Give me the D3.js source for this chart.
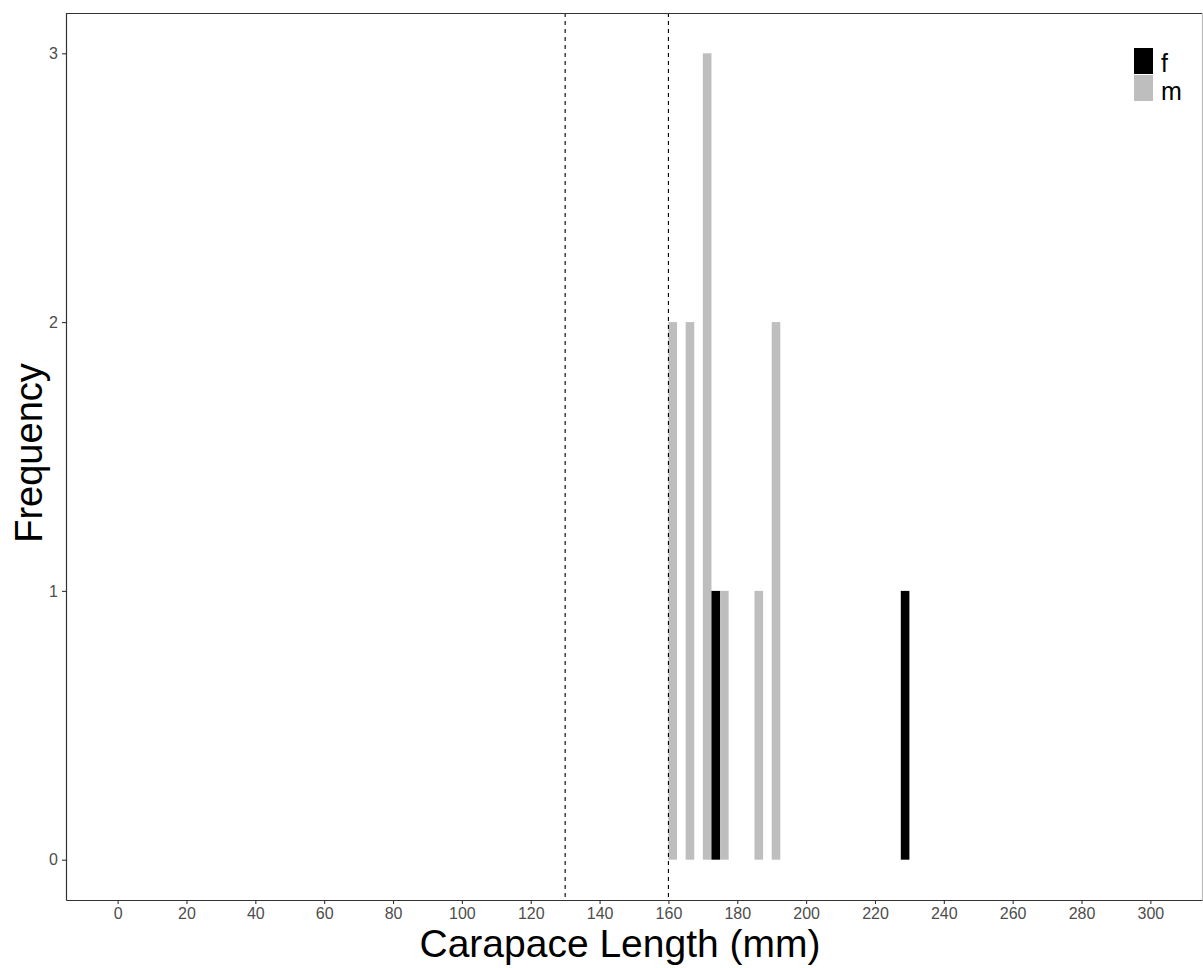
<!DOCTYPE html>
<html>
<head>
<meta charset="utf-8">
<script src="https://cdn.jsdelivr.net/npm/d3@7"></script>
<style>
  body { margin: 0; background: #fff; }
  svg { display: block; }
  text { font-family: "Liberation Sans", Arial, sans-serif; }
</style>
</head>
<body>
<svg id="chart" width="1203" height="968"></svg>
<script>
// Histogram bins (bin start, width 5 mm), counts per sex
const binStarts = [160, 165, 170, 175, 185, 190, 225];
const countsM = [2, 2, 3, 1, 1, 2, 0];
const countsF = [0, 0, 1, 0, 0, 0, 1];
const binWidth = 5;
const xTicks = d3.range(0, 301, 20);
const yTicks = [0, 1, 2, 3];
const refLines = [130, 160];
const sexes = ["f", "m"];
const sexColors = ["#000000", "#bebebe"];

const svg = d3.select("#chart");
const pLeft = 66, pRight = 1202, pTop = 13, pBottom = 900;

const x = d3.scaleLinear().domain([-15, 315]).range([pLeft, pRight]);
const y = d3.scaleLinear().domain([-0.15, 3.15]).range([pBottom, pTop]);

// bars: m on left half of bin, f on right half
const bars = [];
binStarts.forEach((b, i) => {
  if (countsM[i] > 0) bars.push({x0: b, x1: b + binWidth / 2, v: countsM[i], c: sexColors[1]});
  if (countsF[i] > 0) bars.push({x0: b + binWidth / 2, x1: b + binWidth, v: countsF[i], c: sexColors[0]});
});

svg.append("g").selectAll("rect").data(bars).join("rect")
  .attr("x", d => x(d.x0))
  .attr("width", d => x(d.x1) - x(d.x0))
  .attr("y", d => y(d.v))
  .attr("height", d => y(0) - y(d.v))
  .attr("fill", d => d.c);

// dashed reference lines
svg.append("g").selectAll("line").data(refLines).join("line")
  .attr("x1", d => x(d)).attr("x2", d => x(d))
  .attr("y1", pTop).attr("y2", pBottom)
  .attr("stroke", "#000").attr("stroke-width", 1.1)
  .attr("stroke-dasharray", "4,4");

// panel borders (top & right)
svg.append("line").attr("x1", pLeft).attr("x2", pRight).attr("y1", pTop + 0.5).attr("y2", pTop + 0.5)
  .attr("stroke", "#333").attr("stroke-width", 1.2);
svg.append("line").attr("x1", pRight + 0.5).attr("x2", pRight + 0.5).attr("y1", pTop).attr("y2", pBottom)
  .attr("stroke", "#bbb").attr("stroke-width", 1.2);

// axes
const xAxis = svg.append("g").attr("transform", `translate(0,${pBottom})`)
  .call(d3.axisBottom(x).tickValues(xTicks).tickFormat(d3.format("d")).tickSize(4).tickPadding(4).tickSizeOuter(0));
const yAxis = svg.append("g").attr("transform", `translate(${pLeft},0)`)
  .call(d3.axisLeft(y).tickValues(yTicks).tickFormat(d3.format("d")).tickSize(4).tickPadding(4).tickSizeOuter(0));
[xAxis, yAxis].forEach(g => {
  g.select(".domain").attr("stroke", "#333").attr("stroke-width", 1.2);
  g.selectAll(".tick line").attr("stroke", "#333").attr("stroke-width", 1.1);
  g.selectAll(".tick text").attr("fill", "#4d4d4d").style("font-size", "16px")
    .style("font-family", '"Liberation Sans", Arial, sans-serif');
});

// axis titles
svg.append("text").attr("x", 620).attr("y", 957)
  .attr("text-anchor", "middle").style("font-size", "39px").attr("fill", "#000")
  .text("Carapace Length (mm)");
svg.append("text").attr("transform", `translate(42,453) rotate(-90)`)
  .attr("text-anchor", "middle").style("font-size", "38px").attr("fill", "#000")
  .text("Frequency");

// legend
const lg = svg.append("g").attr("transform", "translate(1134,48)");
sexes.forEach((s, i) => {
  lg.append("rect").attr("x", 0).attr("y", i * 27).attr("width", 19).attr("height", 26)
    .attr("fill", sexColors[i]);
  lg.append("text").attr("x", 27).attr("y", i * 27 + 24 + (i ? 1 : 0))
    .style("font-size", "25px").attr("fill", "#000").text(s);
});
</script>
</body>
</html>
